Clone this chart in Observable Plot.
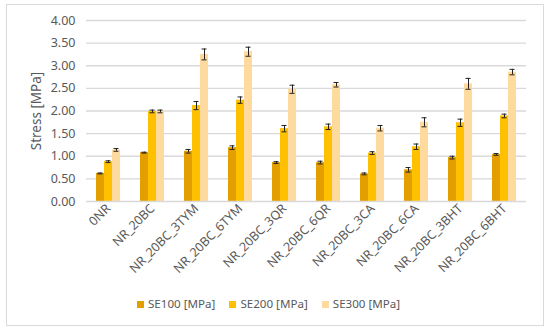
<!DOCTYPE html>
<html><head><meta charset="utf-8">
<script src="https://cdn.jsdelivr.net/npm/d3@7"></script>
<script src="https://cdn.jsdelivr.net/npm/@observablehq/plot@0.6"></script>
<style>
body{margin:0;background:#fff;font-family:"Noto Sans",sans-serif;}
#frame{position:absolute;left:6px;top:4px;width:538px;height:322px;border:1.5px solid #d9d9d9;box-sizing:border-box;}
#chart{position:absolute;left:0;top:0;}
#legend{position:absolute;left:137px;top:296px;display:flex;gap:14px;font-size:11.6px;color:#595959;}
#legend span.sw{display:inline-block;width:7px;height:7px;margin-right:4px;vertical-align:0px;}
</style></head>
<body>
<div id="frame"></div>
<div id="chart"></div>
<div id="legend"></div>
<script>
const categories = ["0NR","NR_20BC","NR_20BC_3TYM","NR_20BC_6TYM","NR_20BC_3QR","NR_20BC_6QR","NR_20BC_3CA","NR_20BC_6CA","NR_20BC_3BHT","NR_20BC_6BHT"];
const seriesNames = ["SE100 [MPa]","SE200 [MPa]","SE300 [MPa]"];
const colors = ["#E39E00","#FFC000","#FFDA9E"];
const se100 = [0.62,1.08,1.11,1.19,0.86,0.86,0.61,0.70,0.97,1.04];
const se200 = [0.88,1.99,2.12,2.24,1.61,1.65,1.07,1.21,1.74,1.89];
const se300 = [1.14,1.99,3.25,3.31,2.48,2.58,1.62,1.75,2.60,2.86];
const err100 = [0.01,0.01,0.04,0.04,0.02,0.03,0.02,0.05,0.03,0.02];
const err200 = [0.02,0.03,0.09,0.07,0.07,0.06,0.03,0.06,0.08,0.04];
const err300 = [0.03,0.03,0.12,0.10,0.09,0.05,0.06,0.10,0.12,0.06];
const yTicks = [0,0.5,1,1.5,2,2.5,3,3.5,4];

const vals = [se100, se200, se300];
const errs = [err100, err200, err300];
const data = [];
categories.forEach((c,i)=>seriesNames.forEach((s,j)=>data.push({cat:c, series:s, v:vals[j][i], e:errs[j][i]})));

const gray = "#595959";
const plot = Plot.plot({
  width: 550, height: 290,
  marginTop: 20, marginBottom: 89, marginLeft: 84, marginRight: 23,
  style: {fontFamily: "Noto Sans, sans-serif", fontSize: "12px", color: gray},
  fx: {domain: categories, padding: 0, label: null, tickRotate: -45, tickSize: 0, tickPadding: 5},
  x: {domain: seriesNames, paddingInner: 0.05, paddingOuter: 1.1, axis: null},
  y: {domain: [0,4], ticks: yTicks, tickFormat: d3.format(".2f"), tickSize: 0, tickPadding: 11, label: "Stress [MPa]", labelArrow: "none", labelAnchor: "center", labelOffset: 55},
  color: {domain: seriesNames, range: colors},
  marks: [
    Plot.ruleY(yTicks.slice(1), {stroke: "#d9d9d9", strokeWidth: 1.3}),
    Plot.barY(data, {fx: "cat", x: "series", y: "v", fill: "series"}),
    Plot.ruleY([0], {stroke: "#d9d9d9", strokeWidth: 1.3}),
    Plot.ruleX(data, {fx: "cat", x: "series", y1: d=>d.v-d.e, y2: d=>d.v+d.e, stroke: "#222", strokeWidth: 1}),
    Plot.tickY(data, {fx: "cat", x: "series", y: d=>d.v-d.e, stroke: "#222", strokeWidth: 1, insetLeft: 1.5, insetRight: 1.5}),
    Plot.tickY(data, {fx: "cat", x: "series", y: d=>d.v+d.e, stroke: "#222", strokeWidth: 1, insetLeft: 1.5, insetRight: 1.5})
  ]
});
document.getElementById("chart").appendChild(plot);
d3.select(plot).selectAll("[aria-label='fx-axis tick label'] text").attr("font-size", 12.5);
d3.select(plot).selectAll("[aria-label='y-axis tick label'] text").attr("font-size", 12.5);
d3.select(plot).selectAll("[aria-label='y-axis label'] text").attr("font-size", 13.5).text("Stress [MPa]");

const leg = document.getElementById("legend");
seriesNames.forEach((s,i)=>{
  const d = document.createElement("div");
  d.innerHTML = `<span class="sw" style="background:${colors[i]}"></span>${s}`;
  leg.appendChild(d);
});
</script>
</body></html>
